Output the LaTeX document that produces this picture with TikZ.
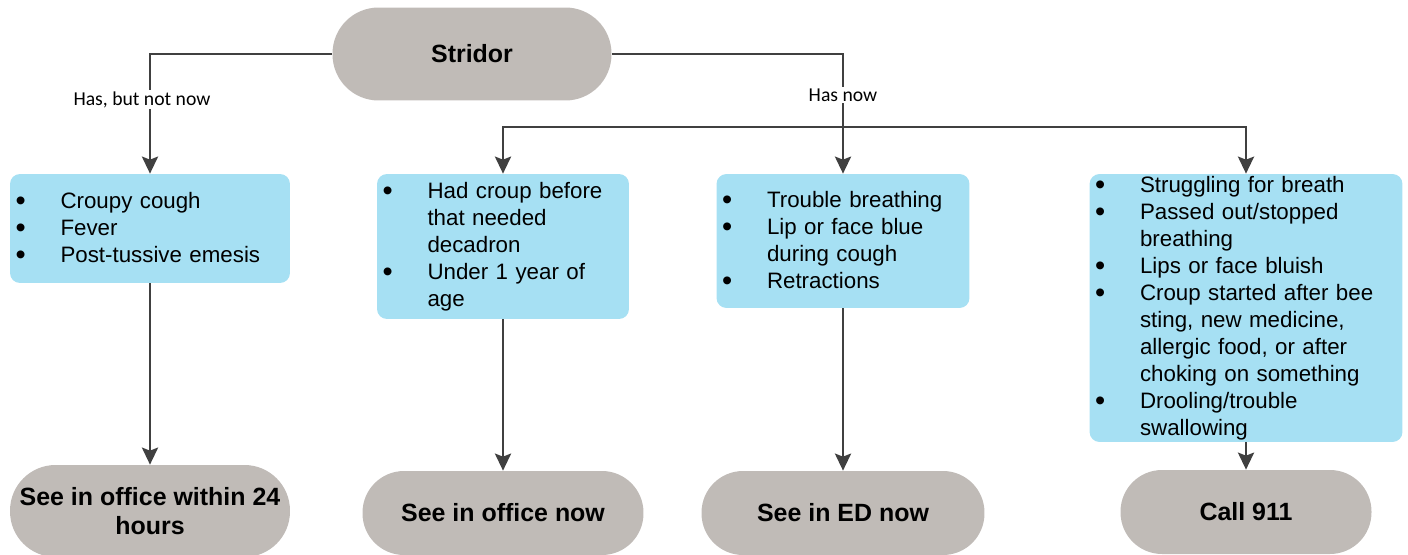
\documentclass[tikz,border=0pt]{standalone}
\usepackage{fontspec}
\setmainfont{Liberation Sans}
\newfontfamily\labelfont{Carlito}
\usetikzlibrary{arrows.meta}
\definecolor{pillgray}{HTML}{C0BBB7}
\definecolor{boxblue}{HTML}{A6E0F3}
\definecolor{linegray}{HTML}{404040}
\newcommand{\bul}{\makebox[0.9cm][l]{\raisebox{-0.1em}{\scalebox{1.3}{\textbullet}}}}
\newcommand{\cont}{\hspace*{0.9cm}}

\begin{document}
\begin{tikzpicture}[
  x=0.02cm, y=-0.02cm,
  pill/.style={rectangle, fill=pillgray, rounded corners=0.83cm,
    minimum height=1.68cm, inner xsep=0.1cm, align=center,
    font=\fontsize{14.2}{16.5}\selectfont\bfseries},
  infobox/.style={rectangle, fill=boxblue, rounded corners=0.2cm,
    inner xsep=0.11cm, inner ysep=0pt, align=left,
    font=\fontsize{12.7}{15.4}\selectfont},
  link/.style={draw=linegray, line width=1.6pt},
  flow/.style={link, -{Stealth[length=0.34cm,width=0.32cm,inset=0.06cm]}},
  answer/.style={fill=white, inner sep=1pt,
    font=\labelfont\fontsize{11.2}{13}\selectfont}
]
\useasboundingbox (0,0) rectangle (1408,554);

\node[pill, minimum width=5.58cm, minimum height=1.86cm, rounded corners=0.92cm]
  (stridor) at (472,54) {Stridor};

\node[infobox, text width=5.38cm, minimum height=2.18cm] (croup) at (150,228.5)
  {\bul Croupy cough\\ \bul Fever\\ \bul Post-tussive emesis};
\node[infobox, text width=4.82cm, minimum height=2.9cm] (history) at (503,246.5)
  {\bul Had croup before\\ \cont that needed\\ \cont decadron\\
   \bul Under 1 year of\\ \cont age};
\node[infobox, text width=4.84cm, minimum height=2.68cm] (distress) at (843,241)
  {\bul Trouble breathing\\ \bul Lip or face blue\\ \cont during cough\\
   \bul Retractions};
\node[infobox, text width=6.04cm, minimum height=5.36cm] (severe) at (1246,308)
  {\bul Struggling for breath\\ \bul Passed out/stopped\\ \cont breathing\\
   \bul Lips or face bluish\\ \bul Croup started after bee\\
   \cont sting, new medicine,\\ \cont allergic food, or after\\
   \cont choking on something\\ \bul Drooling/trouble\\ \cont swallowing};

\node[pill, minimum width=5.6cm, minimum height=1.84cm, rounded corners=0.91cm]
  (office24) at (150,511) {See in office within 24\\hours};
\node[pill, minimum width=5.62cm] (officenow) at (503,513) {See in office now};
\node[pill, minimum width=5.66cm] (ednow) at (843,513) {See in ED now};
\node[pill, minimum width=5.02cm] (call) at (1246,512) {Call 911};

\coordinate (hub) at (843,127);
\draw[flow] (stridor.west) -| node[answer, pos=0.69, xshift=-0.16cm] {Has, but not now} (croup.north);
\draw[link] (stridor.east) -| node[answer, pos=0.78] {Has now} (hub);
\draw[flow] (hub) -| (history.north);
\draw[flow] (hub) -- (distress.north);
\draw[flow] (hub) -| (severe.north);

\draw[flow] (croup) -- (office24);
\draw[flow] (history) -- (officenow);
\draw[flow] (distress) -- (ednow);
\draw[flow] (severe) -- (call);
\end{tikzpicture}
\end{document}
